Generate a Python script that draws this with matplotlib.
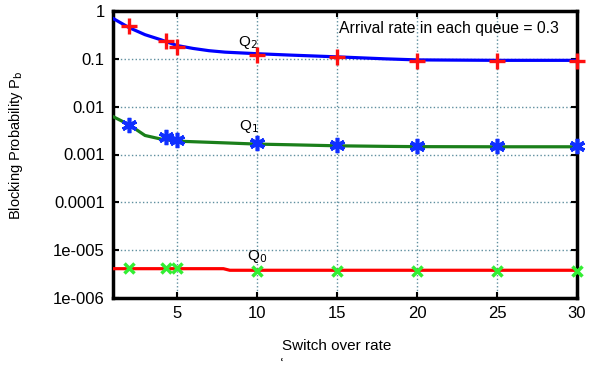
import numpy as np
import matplotlib
matplotlib.use('Agg')
import matplotlib.pyplot as plt

plt.rcParams['font.family'] = ['Liberation Sans', 'DejaVu Sans']

# curves (switch over rate vs blocking probability)
line_x = [1, 2, 3, 4, 5, 6, 7, 8, 10, 12, 15, 18, 20, 25, 30]
q2_line = [0.70, 0.45, 0.32, 0.25, 0.19, 0.165, 0.148, 0.138, 0.128, 0.12, 0.11, 0.10, 0.095, 0.093, 0.093]
q1_line = [0.0062, 0.0042, 0.0025, 0.0021, 0.0019, 0.00185, 0.0018, 0.00175, 0.00165, 0.0016, 0.00152, 0.00148, 0.00146, 0.00145, 0.00145]
q0_x = [1, 7.9, 8.3, 30]
q0_line = [4.1e-6, 4.1e-6, 3.8e-6, 3.8e-6]

# simulation points
mark_x = [2, 4.3, 5, 10, 15, 20, 25, 30]
q2_mark = [0.49, 0.24, 0.18, 0.12, 0.109, 0.092, 0.092, 0.092]
q1_mark = [0.0042, 0.0023, 0.0020, 0.0017, 0.00156, 0.0015, 0.0015, 0.0015]
q0_mark = [4.2e-6, 4.2e-6, 4.2e-6, 3.7e-6, 3.7e-6, 3.7e-6, 3.7e-6, 3.7e-6]

yticks = [1e-6, 1e-5, 1e-4, 1e-3, 1e-2, 1e-1, 1]
ytick_labels = ['1e-006', '1e-005', '0.0001', '0.001', '0.01', '0.1', '1']
xticks = [5, 10, 15, 20, 25, 30]

fig = plt.figure(figsize=(5.89, 3.74), dpi=100)
ax = fig.add_axes([113 / 589, 1 - 298 / 374, 464 / 589, 287 / 374])

ax.plot(line_x, q2_line, color='#0000ff', lw=2.3, zorder=3)
ax.plot(line_x, q1_line, color='#1a7f1a', lw=2.3, zorder=3)
ax.plot(q0_x, q0_line, color='#ff0000', lw=2.3, zorder=3)
ax.plot(mark_x, q2_mark, ls='none', marker='+', ms=11, mew=2.4, color='#ff1010', zorder=4, clip_on=False)
ax.plot(mark_x, q1_mark, ls='none', marker=(6, 2, 0), ms=11, mew=2.6, color='#1030ff', zorder=4, clip_on=False)
ax.plot(mark_x, q0_mark, ls='none', marker='x', ms=7.5, mew=2.5, color='#33ee33', zorder=4, clip_on=False)

ax.set_yscale('log')
ax.set_xlim(1, 30)
ax.set_ylim(1e-6, 1)
ax.set_yticks(yticks)
ax.set_yticklabels(ytick_labels)
ax.minorticks_off()
ax.set_xticks(xticks)
ax.tick_params(direction='in', length=4, width=1.5, labelsize=12, top=True, right=True, pad=6)
ax.grid(True, ls=':', color='#5f8f9f', lw=1.0)
for s in ax.spines.values():
    s.set_linewidth(2.5)

ax.text(9.4, 0.22, r'Q$_2$', fontsize=11, ha='center', va='center')
ax.text(9.5, 0.0038, r'Q$_1$', fontsize=11, ha='center', va='center')
ax.text(10.0, 7.5e-6, r'Q$_0$', fontsize=11, ha='center', va='center')
ax.text(339 / 589, 1 - 28 / 374, 'Arrival rate in each queue = 0.3', transform=fig.transFigure,
        fontsize=11.3, ha='left', va='center')

fig.text(337 / 589, 1 - 346 / 374, 'Switch over rate', fontsize=11, ha='center', va='center')
fig.text(16 / 589, 1 - 145 / 374, r'Blocking Probability P$_\mathrm{b}$', fontsize=10.5,
         rotation=90, ha='center', va='center')
fig.text(282 / 589, 1 - 366 / 374, 'ʿ', fontsize=12, ha='center', va='center')

fig.savefig('out.png', dpi=100)
